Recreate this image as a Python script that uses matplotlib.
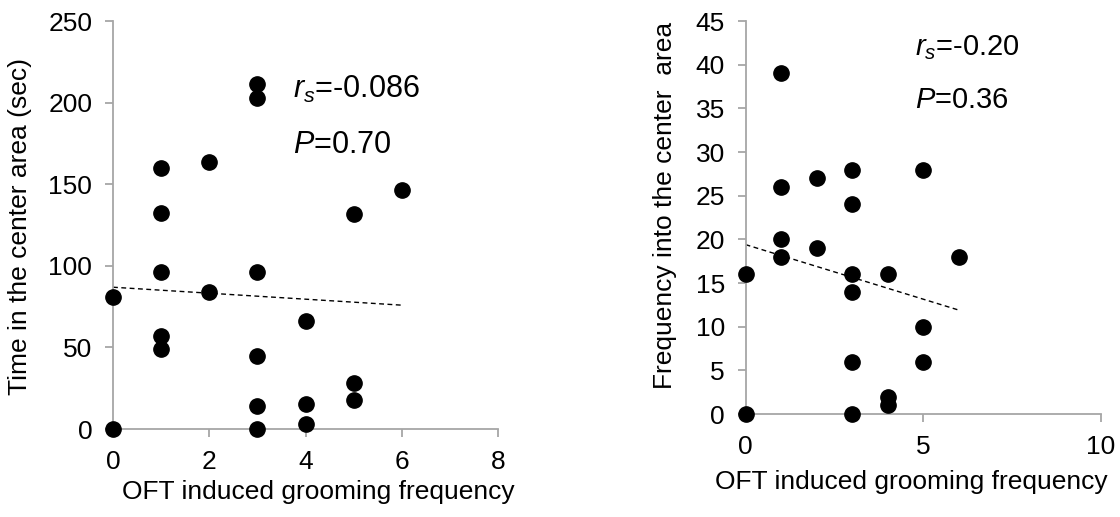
import numpy as np
import matplotlib
matplotlib.use("Agg")
import matplotlib.pyplot as plt

plt.rcParams["font.family"] = ["Liberation Sans", "DejaVu Sans"]
plt.rcParams["mathtext.fontset"] = "custom"
plt.rcParams["mathtext.it"] = "Liberation Sans:italic"
plt.rcParams["mathtext.rm"] = "Liberation Sans"

# 左圖：中央區域停留時間
x_time = [0, 0, 1, 1, 1, 1, 1, 2, 2, 3, 3, 3, 3, 3, 3, 4, 4, 4, 5, 5, 5, 6]
y_time = [81, 0, 160, 132.5, 96.5, 57, 49, 163.5, 84, 211.5, 203, 96.5, 45, 14, 0,
          66, 15.5, 3, 132, 28, 17.5, 146.5]
trend_time_x = [0, 6]
trend_time_y = [86.9, 75.9]

# 右圖：進入中央區域次數
x_freq = [0, 0, 1, 1, 1, 1, 2, 2, 3, 3, 3, 3, 3, 3, 4, 4, 4, 5, 5, 5, 6]
y_freq = [16, 0, 39, 26, 20, 18, 27, 19, 28, 24, 16, 14, 6, 0, 16, 2, 1, 28, 10, 6, 18]
trend_freq_x = [0, 6]
trend_freq_y = [19.4, 11.9]

gray = "#a6a6a6"


def style_axes(ax):
    for side in ["top", "right"]:
        ax.spines[side].set_visible(False)
    for side in ["left", "bottom"]:
        ax.spines[side].set_color(gray)
        ax.spines[side].set_linewidth(1.3)
    ax.tick_params(direction="out", length=6, width=1.3, color=gray, pad=9,
                   labelsize=19)


fig = plt.figure(figsize=(11.2, 5.17), dpi=100)

# ====== 左圖 ======
ax1 = fig.add_axes([0.1009, 0.1702, 0.34375, 0.789])
ax1.plot(trend_time_x, trend_time_y, color="black", lw=1.0, ls=(0, (3.5, 2.5)))
ax1.plot(x_time, y_time, "o", color="black", ms=11, clip_on=False, zorder=3)
ax1.set_xlim(0, 8)
ax1.set_ylim(0, 250)
ax1.set_xticks([0, 2, 4, 6, 8])
ax1.set_yticks([0, 50, 100, 150, 200, 250])
style_axes(ax1)
ax1.set_xlabel("OFT induced grooming frequency", fontsize=19)
ax1.set_ylabel("Time in the center area (sec)", fontsize=19)
ax1.xaxis.set_label_coords(0.534, -0.125)
ax1.yaxis.set_label_coords(-0.21, 0.4975)
ax1.text(3.74, 203, r"$r_s$=-0.086", fontsize=22)
ax1.text(3.74, 169, r"$P$=0.70", fontsize=22)

# ====== 右圖 ======
ax2 = fig.add_axes([0.6657, 0.1992, 0.3173, 0.760])
ax2.plot(trend_freq_x, trend_freq_y, color="black", lw=1.0, ls=(0, (3.5, 2.5)))
ax2.plot(x_freq, y_freq, "o", color="black", ms=11, clip_on=False, zorder=3)
ax2.set_xlim(0, 10)
ax2.set_ylim(0, 45)
ax2.set_xticks([0, 5, 10])
ax2.set_yticks(np.arange(0, 46, 5))
style_axes(ax2)
ax2.set_xlabel("OFT induced grooming frequency", fontsize=19)
ax2.set_ylabel("Frequency into the center  area", fontsize=19)
ax2.xaxis.set_label_coords(0.465, -0.142)
ax2.yaxis.set_label_coords(-0.194, 0.532)
ax2.text(4.77, 41.1, r"$r_s$=-0.20", fontsize=21)
ax2.text(4.77, 35.0, r"$P$=0.36", fontsize=21)

fig.savefig("out.png", dpi=100)
